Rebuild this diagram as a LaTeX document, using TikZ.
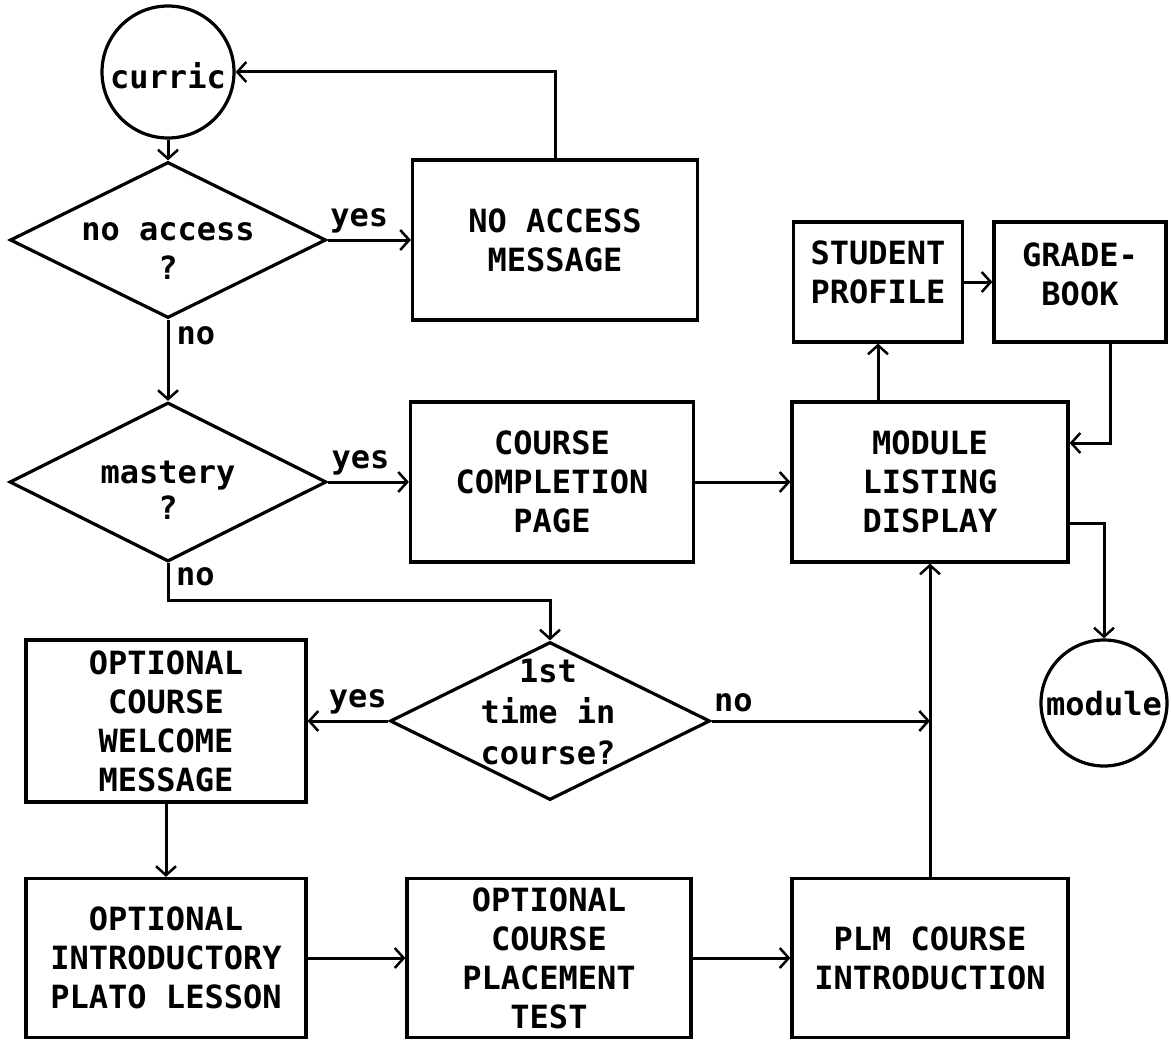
\documentclass[tikz,border=0pt]{standalone}
\usepackage{fontspec}
\setmonofont{DejaVu Sans Mono}
\usetikzlibrary{shapes.geometric,arrows.meta,calc}
\begin{document}
\begin{tikzpicture}[x=1pt,y=-1pt,
  every node/.style={font=\ttfamily\bfseries\fontsize{32}{39}\selectfont},
  box/.style={draw, line width=3.2pt, rectangle, inner sep=0pt, align=center},
  dia/.style={draw, line width=3.2pt, diamond, inner sep=0pt},
  term/.style={draw, line width=3.2pt, circle, inner sep=0pt},
  lbl/.style={inner sep=0pt, align=center},
  conn/.style={line width=3pt, -{Straight Barb[length=9pt,width=20pt,line width=2.5pt]}}
]
\useasboundingbox (0,0) rectangle (1171,1041);
\fill[white] (0,0) rectangle (1171,1041);

% terminals
\node[term, minimum size=132pt] (curric) at (168,72) {};
\node[lbl] (currict) at (168,76) {curric};
\node[term, minimum size=126pt] (modcircle) at (1104,703) {};
\node[lbl] (modt) at (1104,704) {module};

% decisions
\node[dia, minimum width=316pt, minimum height=156pt] (noacc) at (168,240) {};
\node[lbl] (noacct) at (168,251) {no access\\?};
\node[dia, minimum width=317pt, minimum height=159pt] (mastery) at (168,482) {};
\node[lbl, font=\ttfamily\bfseries\fontsize{32}{36}\selectfont] (masteryt) at (168,490) {mastery\\?};
\node[dia, minimum width=320pt, minimum height=158pt] (first) at (550,721) {};
\node[lbl, font=\ttfamily\bfseries\fontsize{32}{41}\selectfont] (firstt) at (548,712) {1st\\time in\\course?};

% boxes
\node[box, minimum width=285pt, minimum height=160pt] (noaccbox) at (555,240) {NO ACCESS\\MESSAGE};
\node[box, minimum width=283pt, minimum height=160pt] (completion) at (552,482) {COURSE\\COMPLETION\\PAGE};
\node[box, minimum width=169pt, minimum height=120pt] (student) at (878,282) {};
\node[lbl] (studentt) at (878,272) {STUDENT\\PROFILE};
\node[box, minimum width=172pt, minimum height=120pt] (grade) at (1080,282) {};
\node[lbl] (gradet) at (1080,274) {GRADE-\\BOOK};
\node[box, minimum width=276pt, minimum height=160pt] (module) at (930,482) {MODULE\\LISTING\\DISPLAY};
\node[box, minimum width=280pt, minimum height=162pt] (welcome) at (166,721) {OPTIONAL\\COURSE\\WELCOME\\MESSAGE};
\node[box, minimum width=280pt, minimum height=159pt] (intro) at (166,958) {OPTIONAL\\INTRODUCTORY\\PLATO LESSON};
\node[box, minimum width=284pt, minimum height=159pt] (placement) at (549,958) {OPTIONAL\\COURSE\\PLACEMENT\\TEST};
\node[box, minimum width=276pt, minimum height=159pt] (plm) at (930,958) {PLM COURSE\\INTRODUCTION};

% join points
\coordinate (mjoin) at (550,600);
\coordinate (njoin) at (930,721);

% connectors
\draw[conn] (curric.south) -- (noacc.north);
\draw[conn] (noacc.east) -- node[lbl, pos=0.38, above=5pt] (yes1) {yes} (noaccbox.west);
\draw[conn] (noaccbox.north) |- (curric.east);
\draw[conn] (noacc.south) -- node[lbl, pos=0.2, right=7pt] (no1) {no} (mastery.north);
\draw[conn] (mastery.east) -- node[lbl, pos=0.4, above=5pt] (yes2) {yes} (completion.west);
\draw[conn] (mastery.south) |- (mjoin) -- (first.north);
\node[lbl, anchor=west] (no2) at (176,577) {no};
\draw[conn] (first.west) -- node[lbl, pos=0.38, above=5pt] (yes3) {yes} (welcome.east);
\draw[conn] (first.east) -- node[lbl, pos=0.1, above=8pt] (no3) {no} (njoin);
\draw[conn] (welcome.south) -- (intro.north);
\draw[conn] (intro.east) -- (placement.west);
\draw[conn] (placement.east) -- (plm.west);
\draw[conn] (plm.north) -- (module.south);
\draw[conn] (completion.east) -- (module.west);
\draw[conn] (student.south |- module.north) -- (student.south);
\draw[conn] (student.east) -- (grade.west);
\draw[conn] ([xshift=30pt]grade.south) |- ([yshift=39pt]module.east);
\draw[conn] ([yshift=-41pt]module.east) -| (modcircle.north);
\end{tikzpicture}
\end{document}
